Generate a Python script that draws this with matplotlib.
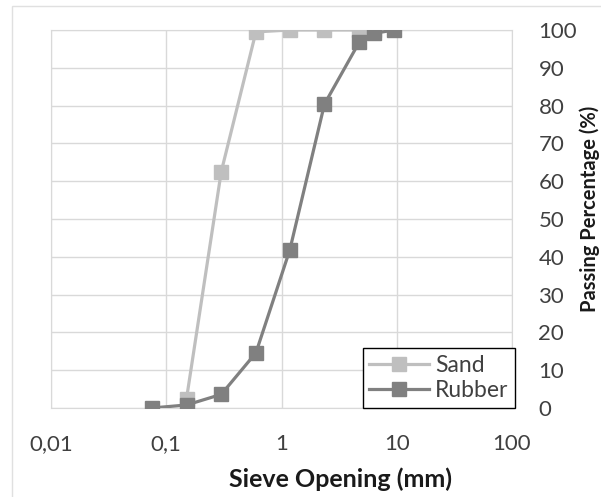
import matplotlib.pyplot as plt
from matplotlib.patches import Rectangle
from matplotlib.ticker import FixedLocator, FixedFormatter, NullLocator

plt.rcParams['font.family'] = ['Lato', 'DejaVu Sans']

# sieve openings (mm) and passing percentages
sand_size = [0.15, 0.3, 0.6, 1.18, 2.36, 4.75, 6.3]
sand_pass = [2.5, 62.5, 99.5, 100, 100, 100, 100]
rubber_size = [0.075, 0.15, 0.3, 0.6, 1.18, 2.36, 4.75, 6.3, 9.5]
rubber_pass = [0, 0.8, 3.6, 14.6, 41.8, 80.4, 96.9, 99.1, 100]

x_ticks = [0.01, 0.1, 1, 10, 100]
x_labels = ['0,01', '0,1', '1', '10', '100']
y_ticks = list(range(0, 101, 10))

W, H = 601, 497
fig = plt.figure(figsize=(W / 100, H / 100), dpi=100)
ax = fig.add_axes([51 / W, 1 - 408 / H, (512 - 51) / W, (408 - 30) / H])

grid_c = '#D9D9D9'
ax.plot(sand_size, sand_pass, color='#BFBFBF', lw=2.3, marker='s', ms=9.5,
        label='Sand', zorder=3)
ax.plot(rubber_size, rubber_pass, color='#808080', lw=2.3, marker='s', ms=9.5,
        label='Rubber', zorder=4)

ax.set_xscale('log')
ax.set_xlim(0.01, 100)
ax.set_ylim(0, 100)
ax.xaxis.set_major_locator(FixedLocator(x_ticks))
ax.xaxis.set_major_formatter(FixedFormatter(x_labels))
ax.xaxis.set_minor_locator(NullLocator())
ax.set_yticks(y_ticks)
ax.yaxis.tick_right()
ax.tick_params(axis='both', length=0, labelsize=16, labelcolor='#404040')
ax.tick_params(axis='x', pad=19)
ax.tick_params(axis='y', pad=19)
ax.grid(True, color=grid_c, lw=1)
for s in ax.spines.values():
    s.set_color(grid_c)
ax.set_axisbelow(True)

fig.text(340 / W, 1 - 479 / H, 'Sieve Opening (mm)', ha='center', va='center',
         fontsize=18, fontweight='bold', color='#1a1a1a')
fig.text(590 / W, 1 - 209 / H, 'Passing Percentage (%)', ha='center', va='center',
         rotation=90, fontsize=14.5, fontweight='bold', color='#1a1a1a')

leg = ax.legend(loc='lower right', bbox_to_anchor=(515 / W, 1 - 408 / H),
                bbox_transform=fig.transFigure, fontsize=16.5, frameon=True,
                fancybox=False, edgecolor='black', framealpha=1,
                borderpad=0.3, labelspacing=0.2, handlelength=2.6,
                handletextpad=0.25, borderaxespad=0)
leg.get_frame().set_linewidth(1)
for t in leg.get_texts():
    t.set_color('#404040')

# light outer frame
fig.patches.append(Rectangle((12 / W, -0.1), 1, 1.1 - 6 / H,
                             transform=fig.transFigure, fill=False,
                             edgecolor='#E0E0E0', lw=1))

fig.savefig('out.png', dpi=100)
